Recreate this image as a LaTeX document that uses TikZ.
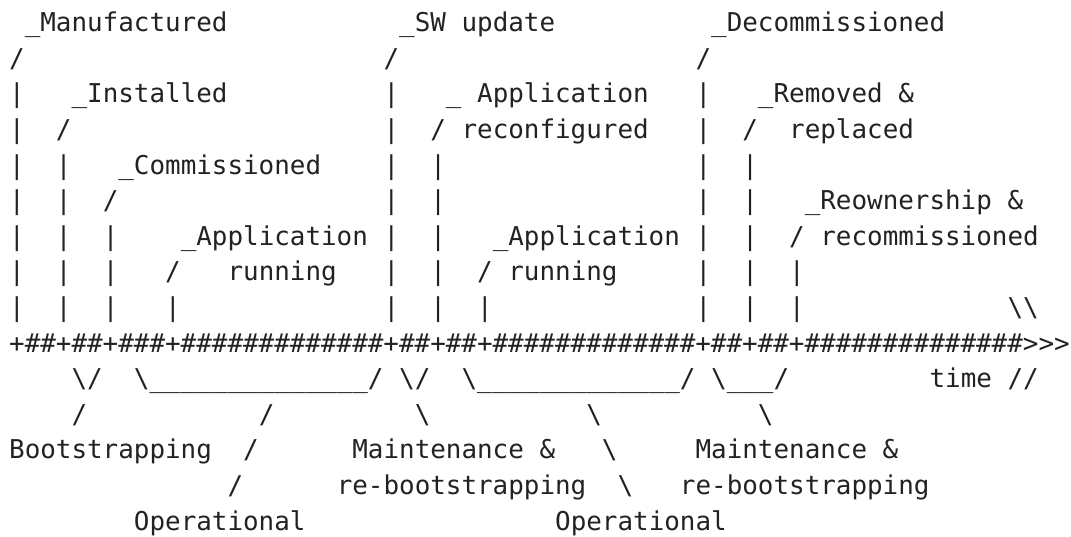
\documentclass[tikz,border=0pt]{standalone}
\usepackage{fontspec}
\newfontfamily\artfont{DejaVu Sans Mono}
\definecolor{ink}{HTML}{222222}
\begin{document}
\begin{tikzpicture}[x=11.7pt,y=-26.7pt]
            \tikzstyle{ascii}=[anchor=base west,inner sep=0pt,text=ink,font=\artfont\fontsize{19.43}{26.7}\selectfont]
            \useasboundingbox (-0.5705,-0.8904) rectangle (68.083,14.166);
            % top labels
            \node[ascii] (manuf) at (1,0) {\_Manufactured};
            \node[ascii] (swup) at (25,0) {\_SW update};
            \node[ascii] (decom) at (45,0) {\_Decommissioned};
            \foreach \c in {0,24,44} \node[ascii] (s1-\c) at (\c,1) {/};
            \node[ascii] (inst) at (4,2) {\_Installed};
            \node[ascii] (appconf) at (28,2) {\_ Application};
            \node[ascii] (remov) at (48,2) {\_Removed \&};
            \node[ascii] (s3-3) at (3,3) {/};
            \node[ascii] (reconf) at (27,3) {/ reconfigured};
            \node[ascii] (s3-47) at (47,3) {/};
            \node[ascii] (repl) at (50,3) {replaced};
            \node[ascii] (comm) at (7,4) {\_Commissioned};
            \node[ascii] (s5-6) at (6,5) {/};
            \node[ascii] (reown) at (51,5) {\_Reownership \&};
            \node[ascii] (app1) at (11,6) {\_Application};
            \node[ascii] (app2) at (31,6) {\_Application};
            \node[ascii] (recomm) at (50,6) {/ recommissioned};
            \node[ascii] (s7-10) at (10,7) {/};
            \node[ascii] (run1) at (14,7) {running};
            \node[ascii] (run2) at (30,7) {/ running};
            % vertical bars
            \foreach \r/\cols in {2/{0,24,44},3/{0,24,44},4/{0,3,24,27,44,47},5/{0,3,24,27,44,47},
                6/{0,3,6,24,27,44,47},7/{0,3,6,24,27,44,47,50},8/{0,3,6,10,24,27,30,44,47,50}}
              {\foreach \c in \cols \node[ascii] (b\r-\c) at (\c,\r) {|};}
            \node[ascii] (brk) at (64,8) {\textbackslash\textbackslash};
            % time line
            \node[ascii] (axis) at (0,9) {+\#\#+\#\#+\#\#\#+\#\#\#\#\#\#\#\#\#\#\#\#\#+\#\#+\#\#+\#\#\#\#\#\#\#\#\#\#\#\#\#+\#\#+\#\#+\#\#\#\#\#\#\#\#\#\#\#\#\#\#>>>};
            % phases
            \node[ascii] (v1) at (4,10) {\textbackslash/};
            \node[ascii] (op1) at (8,10) {\textbackslash\_\_\_\_\_\_\_\_\_\_\_\_\_\_/};
            \node[ascii] (v2) at (25,10) {\textbackslash/};
            \node[ascii] (op2) at (29,10) {\textbackslash\_\_\_\_\_\_\_\_\_\_\_\_\_/};
            \node[ascii] (v3) at (45,10) {\textbackslash\_\_\_/};
            \node[ascii] (time) at (59,10) {time //};
            \node[ascii] (s11-4) at (4,11) {/};
            \node[ascii] (s11-16) at (16,11) {/};
            \node[ascii] (k11-26) at (26,11) {\textbackslash};
            \node[ascii] (k11-37) at (37,11) {\textbackslash};
            \node[ascii] (k11-48) at (48,11) {\textbackslash};
            \node[ascii] (boot) at (0,12) {Bootstrapping};
            \node[ascii] (s12-15) at (15,12) {/};
            \node[ascii] (maint1) at (22,12) {Maintenance \&};
            \node[ascii] (k12-38) at (38,12) {\textbackslash};
            \node[ascii] (maint2) at (44,12) {Maintenance \&};
            \node[ascii] (s13-14) at (14,13) {/};
            \node[ascii] (reboot1) at (21,13) {re-bootstrapping};
            \node[ascii] (k13-39) at (39,13) {\textbackslash};
            \node[ascii] (reboot2) at (43,13) {re-bootstrapping};
            \node[ascii] (oper1) at (8,14) {Operational};
            \node[ascii] (oper2) at (35,14) {Operational};
\end{tikzpicture}
\end{document}
